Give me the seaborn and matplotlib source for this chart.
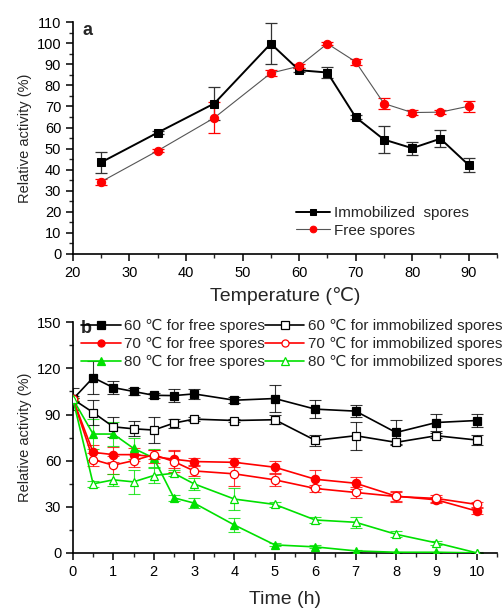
import matplotlib
matplotlib.use("Agg")
import matplotlib.pyplot as plt
from matplotlib.ticker import MultipleLocator
import seaborn as sns
import pandas as pd

# ---- data panel a ----
temps = [25, 35, 45, 55, 60, 65, 70, 75, 80, 85, 90]
immob_a = [43.5, 57.6, 71.4, 99.8, 87.2, 86.1, 64.9, 54.3, 50.2, 54.7, 42.2]
immob_a_err = [5.0, 0.6, 8.0, 9.8, 1.0, 2.5, 1.0, 6.5, 3.0, 4.0, 3.5]
free_a = [34.3, 49.0, 64.6, 85.8, 89.1, 99.8, 91.2, 71.4, 67.1, 67.3, 70.1]
free_a_err = [1.5, 0.6, 7.3, 1.5, 1.0, 0.6, 1.5, 2.5, 1.0, 1.0, 2.5]

# ---- data panel b ----
times = [0, 0.5, 1, 1.5, 2, 2.5, 3, 4, 5, 6, 7, 8, 9, 10]
f60 = [100, 114.0, 107.5, 105.0, 102.5, 102.3, 103.4, 99.3, 100.4, 93.5, 92.2, 78.3, 84.8, 86.1]
f60_err = [7, 10.5, 4.0, 2.0, 1.5, 4.0, 3.5, 2.0, 8.5, 6.0, 4.0, 8.0, 5.5, 4.0]
i60 = [100, 91.3, 82.0, 80.7, 79.9, 84.4, 87.0, 86.1, 86.6, 73.2, 76.2, 71.9, 76.2, 73.4]
i60_err = [2, 8.0, 6.5, 5.0, 8.5, 3.0, 1.5, 1.0, 3.0, 3.5, 9.0, 1.0, 1.5, 3.0]
f70 = [100, 65.4, 63.9, 63.9, 62.6, 60.9, 59.4, 58.9, 55.7, 47.9, 45.3, 36.9, 34.5, 27.2]
f70_err = [1, 5.0, 5.0, 4.0, 4.0, 6.0, 2.0, 3.0, 4.0, 6.0, 4.0, 3.5, 2.0, 2.0]
i70 = [100, 60.7, 57.0, 60.0, 63.9, 59.4, 53.3, 51.4, 47.5, 41.9, 39.3, 36.7, 35.4, 31.5]
i70_err = [1, 4.0, 6.0, 4.0, 3.0, 7.0, 3.0, 8.0, 4.0, 2.0, 3.5, 3.0, 2.0, 1.5]
f80 = [100, 77.3, 77.3, 68.0, 61.7, 35.8, 32.4, 18.1, 5.2, 3.9, 1.3, 0.4, 0.4, 0.0]
f80_err = [1, 10.0, 8.0, 7.0, 6.0, 2.0, 3.0, 4.5, 1.0, 1.0, 0.5, 0.3, 0.3, 0.0]
i80 = [100, 44.9, 47.5, 46.2, 50.3, 51.8, 44.9, 35.0, 31.5, 21.4, 19.9, 12.1, 6.5, 0.0]
i80_err = [1, 2.0, 4.0, 8.0, 5.0, 2.0, 4.0, 7.0, 1.5, 2.0, 3.5, 2.0, 1.5, 0.3]

sns.set_style("ticks")
plt.rcParams['font.family'] = ['Liberation Sans', 'DejaVu Sans']
plt.rcParams['xtick.direction'] = 'out'
plt.rcParams['ytick.direction'] = 'out'

fig = plt.figure(figsize=(5.03, 6.15), dpi=100)
ax1 = fig.add_axes([0.145, 0.587, 0.843, 0.377])
ax2 = fig.add_axes([0.145, 0.101, 0.843, 0.375])

def style(ax):
    for s in ['top', 'right']:
        ax.spines[s].set_visible(False)
    for s in ['left', 'bottom']:
        ax.spines[s].set_linewidth(1.2)
        ax.spines[s].set_color('black')
    ax.tick_params(which='major', length=5, width=1.1, labelsize=10.5, colors='black')
    ax.tick_params(which='minor', length=3, width=1.0)

# ---- panel a ----
dfa = pd.DataFrame({'T': temps + temps,
                    'v': immob_a + free_a,
                    's': ['Immobilized  spores'] * len(temps) + ['Free spores'] * len(temps)})
ax1.errorbar(temps, immob_a, yerr=immob_a_err, fmt='none', ecolor='#333333',
             elinewidth=0.9, capsize=4, capthick=0.9, zorder=2)
ax1.errorbar(temps, free_a, yerr=free_a_err, fmt='none', ecolor='red',
             elinewidth=0.9, capsize=4, capthick=0.9, zorder=2)
sns.lineplot(data=dfa[dfa.s == 'Immobilized  spores'], x='T', y='v', ax=ax1,
             color='black', lw=1.4, marker='s', markersize=6,
             markerfacecolor='black', markeredgecolor='black',
             label='Immobilized  spores', zorder=3)
sns.lineplot(data=dfa[dfa.s == 'Free spores'], x='T', y='v', ax=ax1, color='#555555',
             lw=0.8, marker='o', markersize=6, markerfacecolor='red',
             markeredgecolor='red', label='Free spores', zorder=3)
ax1.set_xlim(20, 95)
ax1.set_ylim(0, 110)
ax1.xaxis.set_major_locator(MultipleLocator(10))
ax1.xaxis.set_minor_locator(MultipleLocator(5))
ax1.yaxis.set_major_locator(MultipleLocator(10))
ax1.yaxis.set_minor_locator(MultipleLocator(5))
ax1.set_xlabel('Temperature (℃)', fontsize=14, labelpad=5)
ax1.set_ylabel('Relative activity (%)', fontsize=10.5, labelpad=3)
style(ax1)
ax1.text(0.022, 1.0, 'a', transform=ax1.transAxes, fontsize=13,
         fontweight='bold', va='top', ha='left')
ax1.legend(loc='upper left', bbox_to_anchor=(296 / 503, 1 - 206 / 615),
           bbox_transform=fig.transFigure, frameon=False,
           fontsize=11, handlelength=2.2, handletextpad=0.3,
           labelspacing=0.25, borderaxespad=0, borderpad=0, markerscale=0.8)

# ---- panel b ----
series = [
    ('60 ℃ for free spores', f60, f60_err, 'black', 's', 'black'),
    ('70 ℃ for free spores', f70, f70_err, 'red', 'o', 'red'),
    ('80 ℃ for free spores', f80, f80_err, '#00e000', '^', '#00e000'),
    ('60 ℃ for immobilized spores', i60, i60_err, 'black', 's', 'white'),
    ('70 ℃ for immobilized spores', i70, i70_err, 'red', 'o', 'white'),
    ('80 ℃ for immobilized spores', i80, i80_err, '#00e000', '^', 'white'),
]
for lab, vals, err, col, mk, mfc in series:
    ax2.errorbar(times, vals, yerr=err, fmt='none', ecolor=col, elinewidth=0.8,
                 capsize=4, capthick=0.8, zorder=2, alpha=0.8)
    df = pd.DataFrame({'t': times, 'v': vals})
    sns.lineplot(data=df, x='t', y='v', ax=ax2, color=col, lw=1.2, marker=mk,
                 markersize=6, markerfacecolor=mfc, markeredgecolor=col,
                 markeredgewidth=0.9, label=lab, zorder=3)
ax2.set_xlim(0, 10.5)
ax2.set_ylim(0, 150)
ax2.xaxis.set_major_locator(MultipleLocator(1))
ax2.xaxis.set_minor_locator(MultipleLocator(0.5))
ax2.yaxis.set_major_locator(MultipleLocator(30))
ax2.yaxis.set_minor_locator(MultipleLocator(15))
ax2.set_xlabel('Time (h)', fontsize=14, labelpad=9)
ax2.set_ylabel('Relative activity (%)', fontsize=10.5, labelpad=3)
style(ax2)
ax2.text(0.018, 1.01, 'b', transform=ax2.transAxes, fontsize=13,
         fontweight='bold', va='top', ha='left')
ax2.legend(loc='upper right', bbox_to_anchor=(502 / 503, 1 - 319 / 615),
           bbox_transform=fig.transFigure, ncol=2,
           frameon=False, fontsize=11, handlelength=2.6,
           handletextpad=0.2, columnspacing=0.0, labelspacing=0.25,
           borderaxespad=0, borderpad=0, markerscale=0.85)

fig.savefig('out.png', dpi=100)
